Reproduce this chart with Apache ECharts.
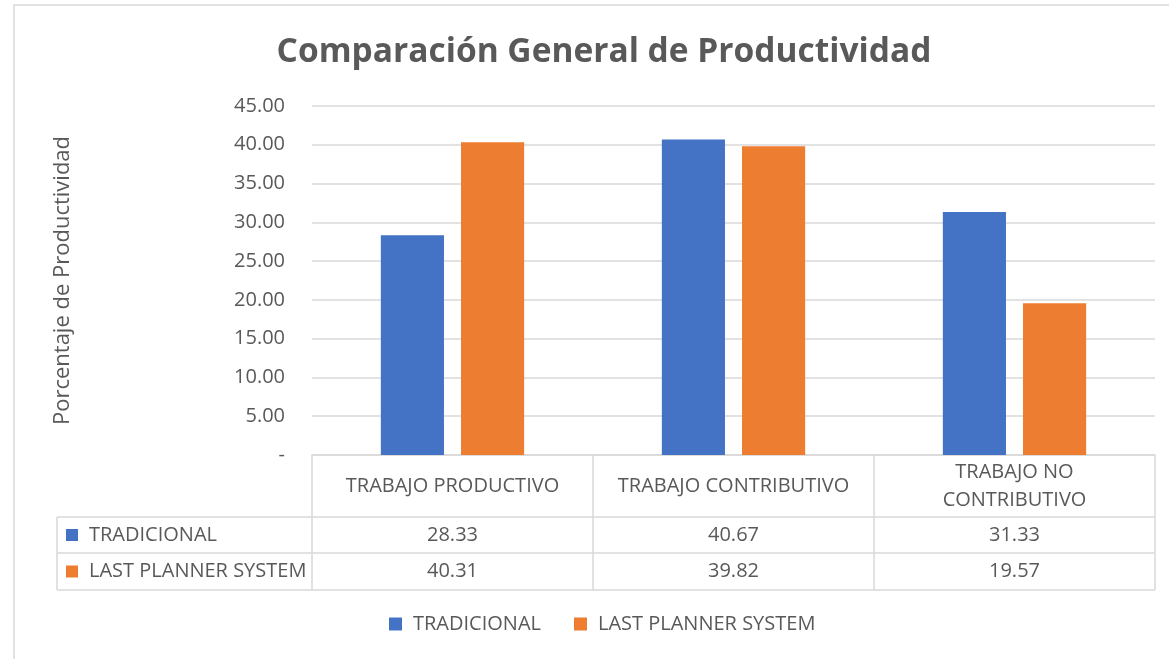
<!DOCTYPE html>
<html>
<head>
<meta charset="utf-8">
<script src="https://cdn.jsdelivr.net/npm/echarts@6/dist/echarts.min.js"></script>
<style>
  html, body { margin: 0; padding: 0; background: #fff; }
  #chart { width: 1169px; height: 659px; }
</style>
</head>
<body>
<div id="chart"></div>
<script>
var categories = ["TRABAJO PRODUCTIVO", "TRABAJO CONTRIBUTIVO", "TRABAJO NO\nCONTRIBUTIVO"];
var seriesNames = ["TRADICIONAL", "LAST PLANNER SYSTEM"];
var tradicional = [28.33, 40.67, 31.33];
var lastPlanner = [40.31, 39.82, 19.57];
var colors = ["#4472C4", "#ED7D31"];

var textColor = "#595959";
var lineColor = "#d9d9d9";
var font = "Open Sans";
var fs = 20;

// plot area (matches the excel layout)
var gLeft = 312, gRight = 14, gTop = 106, gBottom = 204;
var W = 1169, H = 659;
var plotW = W - gLeft - gRight;
var catW = plotW / categories.length;
var axisY = H - gBottom;
var rows = [517, 553, 590]; // row lines of the data table
var tableLeft = 57;

var chart = echarts.init(document.getElementById("chart"));

function line(x1, y1, x2, y2) {
  return {
    type: "line",
    shape: { x1: x1, y1: y1, x2: x2, y2: y2 },
    style: { stroke: lineColor, lineWidth: 1.5 },
    silent: true
  };
}
function txt(x, y, s, align) {
  return {
    type: "text",
    x: x, y: y,
    style: {
      text: s, fill: textColor, font: fs + "px '" + font + "'",
      align: align || "center", verticalAlign: "middle"
    },
    silent: true
  };
}

var graphics = [];
// outer chart frame (it runs past the right and bottom edges)
graphics.push({
  type: "rect",
  shape: { x: 14, y: 5, width: 1200, height: 700 },
  style: { fill: "none", stroke: lineColor, lineWidth: 1.5 },
  silent: true
});
// table lines
var right = W - gRight;
rows.forEach(function (y) { graphics.push(line(tableLeft, y, right, y)); });
graphics.push(line(tableLeft, rows[0], tableLeft, rows[2]));
for (var i = 0; i <= categories.length; i++) {
  var x = gLeft + catW * i;
  graphics.push(line(x, axisY, x, rows[2]));
}
// row headers with colour keys
var tableData = [tradicional, lastPlanner];
tableData.forEach(function (vals, r) {
  var yc = (rows[r] + rows[r + 1]) / 2;
  graphics.push({
    type: "rect",
    shape: { x: 66, y: yc - 6, width: 12, height: 12 },
    style: { fill: colors[r] },
    silent: true
  });
  graphics.push(txt(89, yc, seriesNames[r], "left"));
  vals.forEach(function (v, c) {
    graphics.push(txt(gLeft + catW * (c + 0.5), yc, v.toFixed(2)));
  });
});

var option = {
  animation: false,
  textStyle: { fontFamily: font },
  title: {
    text: "Comparación General de Productividad",
    left: 599,
    textAlign: "center",
    top: 30,
    textStyle: { fontSize: 33.5, fontWeight: "bold", color: textColor, fontFamily: font }
  },
  legend: {
    data: seriesNames,
    bottom: 20,
    left: 384,
    itemWidth: 13,
    itemHeight: 13,
    itemGap: 33,
    icon: "rect",
    textStyle: { fontSize: fs, color: textColor, fontFamily: font, padding: [0, 0, 0, 6] }
  },
  grid: { left: gLeft, right: gRight, top: gTop, bottom: gBottom },
  xAxis: {
    type: "category",
    data: categories,
    axisLine: { show: true, lineStyle: { color: lineColor, width: 1.5 } },
    axisTick: { show: false },
    axisLabel: {
      color: textColor, fontSize: fs, fontFamily: font,
      margin: 31, verticalAlign: "middle", lineHeight: 28, interval: 0
    }
  },
  yAxis: {
    type: "value",
    min: 0,
    max: 45,
    interval: 5,
    name: "Porcentaje de Productividad",
    nameLocation: "middle",
    nameGap: 238,
    nameTextStyle: { color: textColor, fontSize: 22, fontFamily: font },
    axisLine: { show: false },
    axisTick: { show: false },
    splitLine: { lineStyle: { color: lineColor, width: 1.5 } },
    axisLabel: {
      color: textColor, fontSize: fs, fontFamily: font, margin: 27,
      formatter: function (v) { return v === 0 ? "-" : v.toFixed(2); }
    }
  },
  series: [
    {
      name: seriesNames[0], type: "bar", data: tradicional,
      itemStyle: { color: colors[0] },
      barGap: "27%", barCategoryGap: "49%"
    },
    {
      name: seriesNames[1], type: "bar", data: lastPlanner,
      itemStyle: { color: colors[1] },
      barGap: "27%", barCategoryGap: "49%"
    }
  ],
  graphic: graphics
};
chart.setOption(option);
</script>
</body>
</html>
